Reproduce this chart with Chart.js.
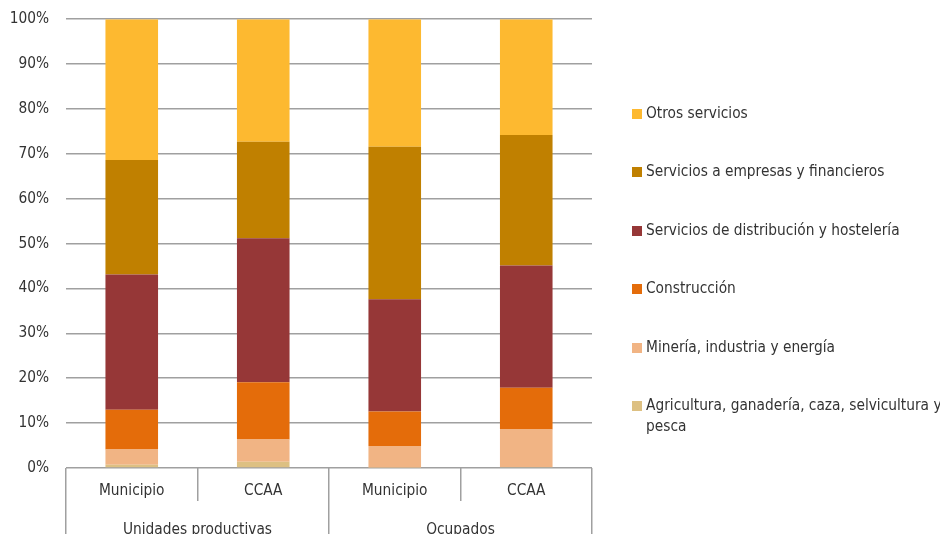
<!DOCTYPE html>
<html>
<head>
<meta charset="utf-8">
<script src="https://cdn.jsdelivr.net/npm/chart.js@4/dist/chart.umd.min.js"></script>
<style>
  html, body { margin: 0; padding: 0; background: #fff; }
  #wrap { position: relative; width: 940px; height: 534px; overflow: hidden; }
  #legend { position: absolute; left: 632px; top: 0; width: 308px;
    font-family: 'DejaVu Sans Condensed', 'Liberation Sans', sans-serif;
    font-size: 15.3px; color: #333; }
  .item { position: absolute; left: 0; display: flex; align-items: flex-start; }
  .box { width: 10px; height: 10px; margin-top: 6px; margin-right: 4px; flex: none; }
  .txt { line-height: 21px; width: 296px; }
</style>
</head>
<body>
<div id="wrap">
  <canvas id="chart" width="940" height="534"></canvas>
  <div id="legend"></div>
</div>
<script>
const categories = ['Municipio', 'CCAA', 'Municipio', 'CCAA'];
const groups = ['Unidades productivas', 'Ocupados'];

// porcentajes, de abajo arriba
const agricultura = [0.7, 1.4, 0.1, 0.2];
const mineria = [3.4, 4.95, 4.8, 8.4];
const construccion = [8.9, 12.75, 7.7, 9.3];
const distribucion = [30.1, 32.1, 25.0, 27.2];
const empresas = [25.5, 21.5, 34.0, 29.1];
const otros = [31.4, 27.3, 28.4, 25.8];

const yTicks = [0, 10, 20, 30, 40, 50, 60, 70, 80, 90, 100];

const seriesNames = [
    'Agricultura, ganadería, caza, selvicultura y pesca',
    'Minería, industria y energía',
    'Construcción',
    'Servicios de distribución y hostelería',
    'Servicios a empresas y financieros',
    'Otros servicios'
];
const seriesValues = [agricultura, mineria, construccion, distribucion, empresas, otros];
const seriesColors = ['#DDC082', '#F1B484', '#E46C0A', '#963737', '#C08000', '#FDB930'];

const FONT = "'DejaVu Sans Condensed', 'Liberation Sans', sans-serif";
const FONT_SIZE = 15.3;
const gridColor = '#a0a0a0';
const textColor = '#333333';

const datasets = seriesNames.map((name, i) => ({
    label: name,
    data: seriesValues[i],
    backgroundColor: seriesColors[i],
    borderWidth: 0,
    barPercentage: 0.4,
    categoryPercentage: 1.0
}));

new Chart(document.getElementById('chart'), {
    type: 'bar',
    data: { labels: categories, datasets: datasets },
    options: {
        responsive: false,
        animation: false,
        layout: { padding: { top: 0, right: 348, left: 0, bottom: 0 } },
        plugins: { legend: { display: false }, tooltip: { enabled: false } },
        scales: {
            x: {
                stacked: true,
                position: 'bottom',
                border: { display: false },
                grid: { offset: true, drawOnChartArea: false, tickLength: 33, color: gridColor, lineWidth: 1.5 },
                ticks: { font: { family: FONT, size: FONT_SIZE }, color: textColor, padding: -19 },
                afterFit: s => { s.height = 33; }
            },
            x2: {
                type: 'category',
                labels: groups,
                position: 'bottom',
                border: { display: false },
                grid: { offset: true, drawOnChartArea: false, tickLength: 33, color: gridColor, lineWidth: 1.5 },
                ticks: { font: { family: FONT, size: FONT_SIZE }, color: textColor, padding: -13 },
                afterFit: s => { s.height = 33; }
            },
            y: {
                stacked: true,
                min: 0,
                max: 100,
                border: { display: false },
                // marcas invisibles: separan las etiquetas sin inflar el margen superior
                grid: { color: gridColor, lineWidth: 1.5, drawTicks: true, tickLength: 7, tickColor: 'rgba(0,0,0,0)' },
                afterBuildTicks: s => { s.ticks = yTicks.map(v => ({ value: v })); },
                ticks: {
                    font: { family: FONT, size: FONT_SIZE },
                    color: textColor,
                    padding: 10,
                    callback: v => v + '%'
                },
                afterFit: s => { s.width = 66; }
            }
        }
    }
});

// leyenda (orden inverso, como en el original)
const legend = document.getElementById('legend');
const legendTop = 103;
const legendStep = 58.4;
seriesNames.slice().reverse().forEach((name, i) => {
    const idx = seriesNames.length - 1 - i;
    const item = document.createElement('div');
    item.className = 'item';
    item.style.top = (legendTop + i * legendStep) + 'px';
    item.innerHTML = '<span class="box" style="background:' + seriesColors[idx] + '"></span><span class="txt"></span>';
    item.querySelector('.txt').textContent = name;
    legend.appendChild(item);
});
</script>
</body>
</html>
